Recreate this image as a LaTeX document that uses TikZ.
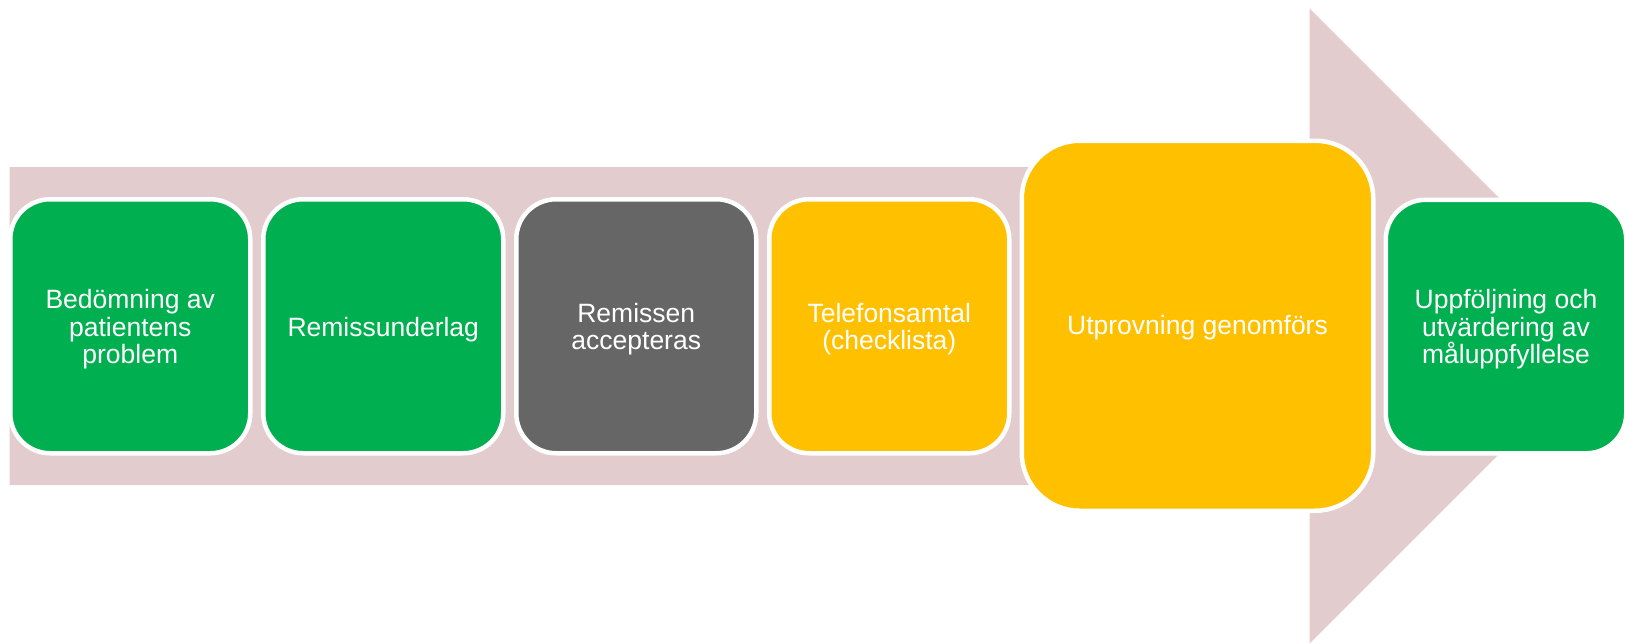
\documentclass[tikz,border=0pt]{standalone}
\usepackage{fontspec}
\setmainfont{Liberation Sans}
\definecolor{arrowpink}{RGB}{226,204,205}
\definecolor{stepgreen}{RGB}{0,176,80}
\definecolor{stepgray}{RGB}{102,102,102}
\definecolor{stepyellow}{RGB}{255,192,0}
\begin{document}
\begin{tikzpicture}[x=1pt,y=-1pt,
  stepbox/.style={draw=white, line width=4.5pt, rounded corners=40pt,
    minimum width=240pt, minimum height=254pt, inner sep=0pt},
  bigbox/.style={stepbox, rounded corners=58pt, minimum width=351.5pt, minimum height=370pt},
  steptext/.style={text=white, align=center, inner sep=0pt,
    font=\fontsize{26.5}{27.5}\selectfont}]
\useasboundingbox (0,0) rectangle (1627,643);
% background arrow
\fill[arrowpink] (9.5,167) -- (1309.5,167) -- (1309.5,8.5) -- (1627,326)
  -- (1309.5,643.5) -- (1309.5,485) -- (9.5,485) -- cycle;
% steps
\node[stepbox, fill=stepgreen] (b1) at (130.25,326.25) {};
\node[stepbox, fill=stepgreen] (b2) at (383.25,326.25) {};
\node[stepbox, fill=stepgray] (b3) at (636.25,326.25) {};
\node[stepbox, fill=stepyellow] (b4) at (889.25,326.25) {};
\node[bigbox, fill=stepyellow] (b5) at (1197.5,325.75) {};
\node[stepbox, fill=stepgreen, minimum width=240.5pt, minimum height=253.5pt] (b6) at (1506,326.5) {};
% texts
\node[steptext] (t1) at ([yshift=-3pt]b1.center) {Bedömning av\\patientens\\problem};
\node[steptext] (t2) at ([yshift=-3pt]b2.center) {Remissunderlag};
\node[steptext] (t3) at ([yshift=-3pt]b3.center) {Remissen\\accepteras};
\node[steptext] (t4) at ([yshift=-3pt]b4.center) {Telefonsamtal\\(checklista)};
\node[steptext] (t5) at ([yshift=-2pt]b5.center) {Utprovning genomförs};
\node[steptext] (t6) at ([yshift=-3pt]b6.center) {Uppföljning och\\utvärdering av\\måluppfyllelse};
\end{tikzpicture}
\end{document}
